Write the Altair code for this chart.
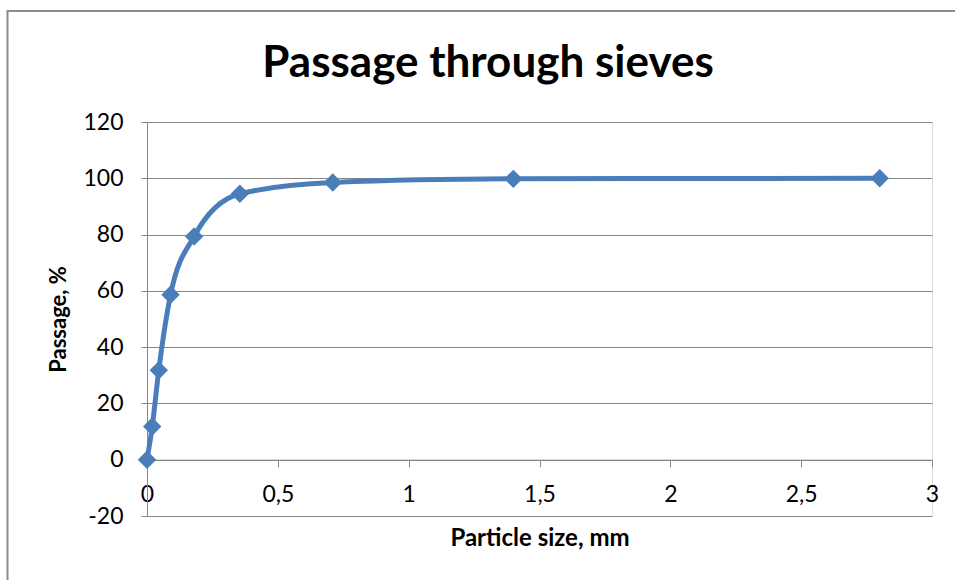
import altair as alt
import pandas as pd

# Data
particle_size_mm = [0, 0.02, 0.045, 0.09, 0.18, 0.355, 0.71, 1.4, 2.8]
passage_pct = [0, 11.8, 31.8, 58.6, 79.3, 94.5, 98.5, 99.8, 100]
x_ticks = [0, 0.5, 1, 1.5, 2, 2.5, 3]
y_ticks = [-20, 0, 20, 40, 60, 80, 100, 120]
chart_title = "Passage through sieves"

df = pd.DataFrame({"size": particle_size_mm, "passage": passage_pct})

W, H = 785, 394
BLUE = "#4A7EBB"
GRID = "#868686"
FONT = "Lato"

x_scale = alt.Scale(domain=[0, 3], nice=False, zero=False)
y_scale = alt.Scale(domain=[-20, 120], nice=False, zero=False)

x_enc = alt.X(
    "size:Q",
    scale=x_scale,
    axis=alt.Axis(
        values=x_ticks,
        title="Particle size, mm",
        offset=-H / 7,
        grid=False,
        domainColor=GRID,
        tickColor=GRID,
        tickSize=7,
        labelPadding=17,
        labelFontSize=23,
        labelFont=FONT,
        labelColor="black",
        labelExpr="replace('' + datum.value, '.', ',')",
        labelFlush=False,
        titleFont=FONT,
        titleFontSize=24,
        titleFontWeight="bold",
        titleColor="black",
        titlePadding=20,
    ),
)
y_enc = alt.Y(
    "passage:Q",
    scale=y_scale,
    axis=alt.Axis(
        values=y_ticks,
        title="Passage, %",
        grid=True,
        gridColor=GRID,
        gridWidth=1,
        domainColor=GRID,
        tickColor=GRID,
        tickSize=6,
        labelPadding=18,
        labelFontSize=23,
        labelFont=FONT,
        labelColor="black",
        labelExpr="'' + datum.value",
        labelFlush=False,
        titleFont=FONT,
        titleFontSize=22,
        titleFontWeight="bold",
        titleColor="black",
        titleAngle=-90,
        titleBaseline="middle",
        titleX=-89,
        titleY=H / 2,
    ),
)

base = alt.Chart(df)
line = base.mark_line(interpolate="monotone", color=BLUE, strokeWidth=5).encode(
    x=x_enc, y=y_enc
)
pts = base.mark_point(shape="diamond", filled=True, color=BLUE, size=340, opacity=1).encode(
    x="size:Q", y="passage:Q"
)

one = pd.DataFrame({"a": [0]})
frame = alt.Chart(one).mark_rect(
    fill=None, stroke="#8c8c8c", strokeWidth=2, clip=False
).encode(
    x=alt.value(-139.5), x2=alt.value(900), y=alt.value(-111), y2=alt.value(600)
)
title = alt.Chart(one).mark_text(
    text=chart_title,
    font=FONT,
    fontSize=44,
    fontWeight="bold",
    color="black",
    align="center",
    baseline="alphabetic",
    clip=False,
).encode(x=alt.value(341), y=alt.value(-45))

chart = (
    alt.layer(frame, title, line, pts)
    .properties(
        width=W,
        height=H,
        autosize=alt.AutoSizeParams(type="none"),
        padding={"left": 147, "top": 122, "right": 23, "bottom": 64},
    )
    .configure_view(stroke=None)
    .configure(background="white")
)

chart.save("out.html", embed_options={"renderer": "svg", "actions": False})
